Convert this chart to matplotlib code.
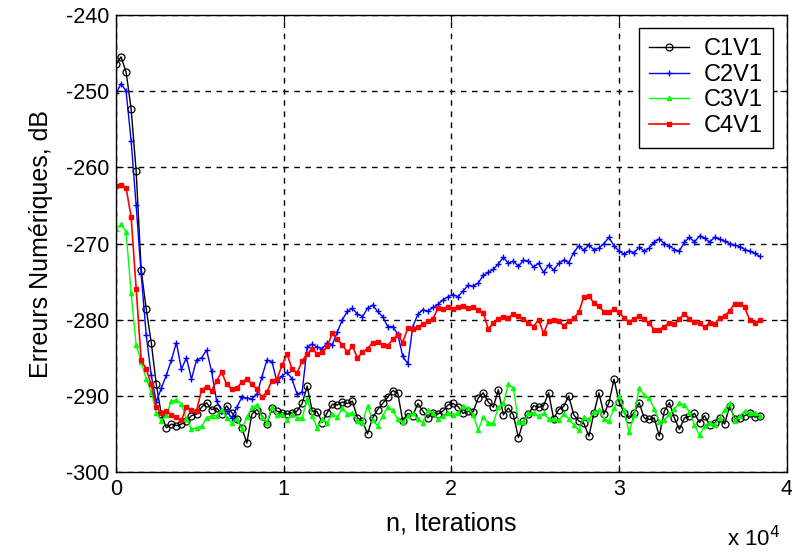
import numpy as np
import matplotlib
matplotlib.use('Agg')
import matplotlib.pyplot as plt

plt.rcParams['font.family'] = ['Liberation Sans', 'DejaVu Sans']
plt.rcParams['axes.unicode_minus'] = False

# iterations, sampled every 300 steps
n = np.arange(0, 38401, 300)

c1v1 = [-246.5, -245.5, -247.5, -252.3, -260.5, -273.5, -278.6, -283.0, -288.5, -292.4,
        -294.2, -293.7, -293.9, -293.7, -293.3, -292.6, -292.4, -291.5, -290.9, -291.8,
        -291.6, -292.4, -291.3, -292.2, -293.0, -294.2, -296.2, -292.4, -291.8, -292.6,
        -293.7, -291.6, -292.0, -292.2, -292.4, -292.2, -292.0, -291.0, -288.7, -292.0,
        -292.1, -293.5, -292.2, -291.1, -291.2, -290.8, -291.0, -290.7, -292.9, -293.3,
        -295.0, -292.9, -291.8, -291.0, -290.2, -289.3, -289.6, -293.3, -292.3, -292.6,
        -291.0, -292.0, -292.9, -292.2, -292.4, -292.0, -291.2, -291.0, -291.4, -292.3,
        -292.0, -292.1, -290.3, -289.6, -290.8, -291.5, -289.2, -292.5, -291.6, -292.5,
        -295.5, -293.3, -292.4, -291.3, -291.5, -291.3, -289.6, -293.0, -291.8, -291.4,
        -290.0, -292.5, -293.3, -293.6, -295.3, -292.3, -289.6, -292.4, -290.9, -287.8,
        -290.8, -292.2, -293.0, -292.2, -290.9, -292.9, -293.1, -292.9, -295.3, -292.0,
        -290.9, -292.9, -294.4, -292.9, -292.7, -292.3, -293.5, -292.6, -293.8, -293.5,
        -292.9, -293.7, -291.3, -293.0, -292.9, -292.6, -292.3, -292.8, -292.6]

c2v1 = [-250.3, -249.0, -250.0, -256.5, -265.0, -274.0, -282.0, -287.3, -290.8, -289.0,
        -287.3, -285.3, -283.0, -286.5, -285.0, -287.8, -285.3, -285.0, -284.0, -286.8,
        -290.7, -292.0, -292.0, -292.9, -291.5, -290.2, -290.3, -290.4, -289.8, -287.5,
        -285.3, -285.5, -288.2, -287.4, -286.9, -287.8, -289.8, -289.5, -283.6, -283.2,
        -283.6, -283.8, -283.0, -283.3, -281.6, -280.0, -278.9, -278.5, -279.3, -279.6,
        -278.5, -278.1, -278.9, -279.6, -280.9, -280.9, -281.9, -284.8, -285.8, -280.9,
        -279.3, -278.7, -278.9, -278.4, -278.0, -277.4, -277.0, -276.7, -277.0, -276.2,
        -275.5, -275.6, -275.2, -274.2, -273.8, -273.4, -272.7, -271.8, -272.6, -272.3,
        -273.0, -272.2, -272.3, -273.1, -272.6, -273.8, -272.8, -273.5, -272.6, -272.2,
        -272.5, -271.2, -270.3, -270.9, -270.2, -270.8, -270.6, -270.0, -269.2, -270.3,
        -271.0, -271.4, -271.0, -271.2, -270.5, -271.0, -270.6, -269.8, -269.4, -270.0,
        -270.3, -270.8, -271.0, -269.8, -269.2, -269.8, -269.0, -269.3, -269.8, -269.2,
        -269.4, -269.7, -270.0, -270.2, -270.4, -270.8, -271.0, -271.3, -271.7]

c3v1 = [-268.1, -267.5, -268.5, -276.5, -283.3, -285.5, -287.8, -289.5, -292.2, -293.3,
        -292.5, -290.7, -290.5, -291.1, -293.0, -294.4, -294.2, -294.0, -292.9, -292.6,
        -292.6, -291.8, -292.9, -293.5, -293.0, -294.4, -292.8, -291.5, -291.2, -292.8,
        -293.5, -291.5, -292.5, -292.4, -293.2, -292.4, -292.9, -292.9, -290.4, -292.7,
        -294.2, -293.1, -293.5, -292.4, -292.8, -291.6, -292.4, -292.2, -293.3, -293.5,
        -291.3, -293.2, -293.9, -292.6, -291.5, -291.9, -293.1, -293.4, -292.7, -292.3,
        -293.1, -293.5, -291.8, -292.3, -293.1, -292.7, -292.2, -292.5, -292.2, -291.3,
        -291.6, -292.5, -294.5, -292.8, -293.6, -293.6, -291.5, -291.0, -288.5, -289.0,
        -293.4, -293.4, -292.3, -292.2, -292.7, -292.3, -293.0, -293.1, -293.2, -292.4,
        -293.0, -293.8, -294.5, -292.8, -293.1, -292.1, -291.9, -293.0, -293.3, -291.6,
        -290.0, -291.8, -294.8, -292.5, -289.0, -289.9, -290.3, -291.7, -293.4, -293.2,
        -292.4, -291.7, -291.0, -291.2, -292.1, -293.8, -295.2, -293.9, -293.5, -293.8,
        -292.9, -291.8, -290.9, -293.3, -292.6, -292.0, -292.2, -292.3, -292.6]

c4v1 = [-262.5, -262.3, -262.7, -266.5, -276.0, -285.3, -286.5, -288.5, -291.5, -292.2,
        -292.0, -292.5, -292.8, -293.2, -291.5, -291.8, -292.0, -289.2, -288.8, -289.3,
        -288.0, -286.9, -288.5, -289.1, -289.0, -288.2, -287.8, -288.5, -289.1, -290.2,
        -289.5, -288.0, -287.8, -286.0, -284.5, -286.5, -287.0, -285.4, -284.5, -283.8,
        -284.5, -284.3, -283.5, -281.8, -282.6, -283.3, -284.3, -283.5, -285.0, -284.3,
        -283.8, -283.0, -282.9, -283.3, -283.4, -282.6, -282.0, -283.0, -281.1, -281.2,
        -281.0, -280.6, -280.2, -279.9, -278.5, -278.6, -278.4, -278.6, -278.3, -278.2,
        -278.5, -278.3, -278.7, -279.1, -281.2, -280.5, -279.9, -279.6, -279.8, -279.2,
        -279.5, -279.9, -280.4, -280.9, -280.0, -281.8, -280.2, -280.1, -280.2, -280.8,
        -280.2, -279.8, -279.0, -277.0, -276.9, -277.8, -278.2, -279.0, -279.0, -278.6,
        -279.0, -279.8, -280.3, -279.9, -279.5, -279.9, -280.5, -281.3, -281.3, -280.9,
        -280.4, -280.6, -279.9, -279.2, -279.9, -280.3, -280.5, -281.0, -280.4, -280.6,
        -279.8, -279.5, -278.8, -277.9, -277.9, -278.4, -280.1, -280.5, -280.0]

labels = ['C1V1', 'C2V1', 'C3V1', 'C4V1']

fig = plt.figure(figsize=(7.92, 5.55), dpi=100)
ax = fig.add_axes([0.1465, 0.1495, 0.8468, 0.8235])

ax.plot(n, c1v1, color='k', lw=1, marker='o', ms=5, mfc='none', mew=0.9, label=labels[0])
ax.plot(n, c2v1, color='b', lw=1, marker='+', ms=4, mew=1, label=labels[1])
ax.plot(n, c3v1, color=(0, 1, 0), lw=1, marker='^', ms=3, label=labels[2])
ax.plot(n, c4v1, color='r', lw=1.2, marker='s', ms=3.5, label=labels[3])

ax.set_xlim(0, 40000)
ax.set_ylim(-300, -240)
ax.set_xticks([0, 10000, 20000, 30000, 40000])
ax.set_xticklabels(['0', '1', '2', '3', '4'])
ax.set_yticks(range(-300, -239, 10))
ax.tick_params(direction='in', top=True, right=True, labelsize=15.5, length=5, pad=5)
ax.grid(True, color='k', linestyle=(0, (4, 4)), linewidth=1)
for s in ax.spines.values():
    s.set_linewidth(1)

ax.set_xlabel('n, Iterations', fontsize=18, labelpad=8)
ax.set_ylabel('Erreurs Numériques, dB', fontsize=18, labelpad=9)
fig.text(0.918, 0.016, 'x 10$^4$', fontsize=16)

leg = ax.legend(loc='upper right', bbox_to_anchor=(0.98, 0.972), borderaxespad=0,
                fancybox=False, framealpha=1, edgecolor='k', fontsize=17,
                handlelength=1.7, handletextpad=0.6, labelspacing=0.15,
                borderpad=0.45)
leg.get_frame().set_linewidth(1)

fig.savefig('out.png', dpi=100)
